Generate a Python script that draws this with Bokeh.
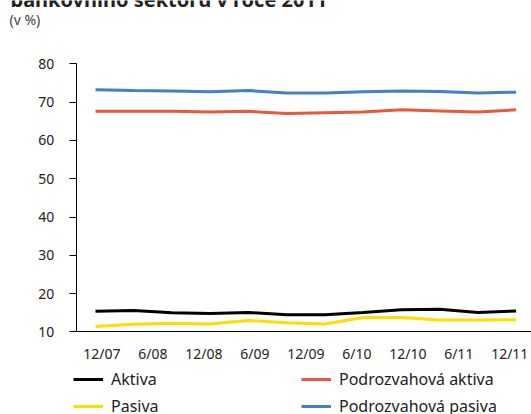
from bokeh.plotting import figure
from bokeh.models import (Range1d, FixedTicker, CustomJSTickFormatter, Legend, LegendItem, Label)
from bokeh.embed import file_html
from bokeh.resources import INLINE

# ---- data ----
x_labels = ["12/07", "6/08", "12/08", "6/09", "12/09", "6/10", "12/10", "6/11", "12/11"]
n_points = 12
aktiva = [15.4, 15.6, 15.0, 14.8, 15.1, 14.5, 14.5, 15.1, 15.8, 15.9, 15.1, 15.5]
pasiva = [11.4, 12.0, 12.3, 12.1, 13.0, 12.4, 12.1, 13.8, 13.8, 13.1, 13.1, 13.2]
podroz_aktiva = [67.6, 67.6, 67.6, 67.4, 67.6, 67.0, 67.2, 67.4, 68.0, 67.7, 67.4, 68.0]
podroz_pasiva = [73.2, 73.0, 72.9, 72.7, 73.0, 72.4, 72.4, 72.7, 72.9, 72.8, 72.4, 72.6]
y_ticks = [10, 20, 30, 40, 50, 60, 70, 80]
y_min, y_max = 10, 80

FONT = "Noto Sans"
W, H = 531, 414
xs = list(range(n_points))

# layout: frame covers whole canvas, axes drawn at fixed locations
px_per_cat = 38.24
px_per_unit = 3.831
x0_px, y80_px = 95.0, 63.3
x_start = -x0_px / px_per_cat
x_end = x_start + W / px_per_cat
y_end = y_max + y80_px / px_per_unit
y_start = y_end - H / px_per_unit

p = figure(width=W, height=H, output_backend="svg", toolbar_location=None,
           x_range=Range1d(x_start, x_end), y_range=Range1d(y_start, y_end),
           min_border=0)
p.outline_line_color = None
p.xgrid.grid_line_color = None
p.ygrid.grid_line_color = None
p.background_fill_color = "white"
p.border_fill_color = "white"

r1 = p.line(xs, aktiva, line_color="#000000", line_width=3)
r2 = p.line(xs, pasiva, line_color="#FFDD00", line_width=3)
r3 = p.line(xs, podroz_aktiva, line_color="#E9583B", line_width=3)
r4 = p.line(xs, podroz_pasiva, line_color="#3F82C7", line_width=3)

# y axis
p.yaxis.fixed_location = -0.5
p.yaxis.bounds = (y_min, y_max)
p.yaxis.ticker = FixedTicker(ticks=y_ticks)
p.yaxis.major_tick_out = 7
p.yaxis.major_tick_in = 0
p.yaxis.minor_tick_out = 0
p.yaxis.minor_tick_in = 0
p.yaxis.major_label_standoff = 15
p.yaxis.major_label_text_font = FONT
p.yaxis.major_label_text_font_size = "14px"
p.yaxis.major_label_text_color = "#222222"
p.yaxis.axis_line_color = "#000000"
p.yaxis.major_tick_line_color = "#000000"

# x axis (category labels spread over the 12 periods)
step = n_points / len(x_labels)
p.xaxis.fixed_location = y_min
p.xaxis.bounds = (-0.5, x_end)
p.xaxis.ticker = FixedTicker(ticks=[-0.5 + (k + 0.5) * step for k in range(len(x_labels))])
p.xaxis.formatter = CustomJSTickFormatter(args=dict(labels=x_labels), code="return labels[index];")
p.xaxis.major_tick_out = 0
p.xaxis.major_tick_in = 0
p.xaxis.minor_tick_out = 0
p.xaxis.minor_tick_in = 0
p.xaxis.major_label_standoff = 12
p.xaxis.major_label_text_font = FONT
p.xaxis.major_label_text_font_size = "14px"
p.xaxis.major_label_text_color = "#222222"
p.xaxis.axis_line_color = "#000000"

# header texts (title is cut by the top edge, as in the source)
p.add_layout(Label(x=10, y=H + 1, x_units="screen", y_units="screen",
                   text="bankovního sektoru v roce 2011",
                   text_font=FONT, text_font_size="20px", text_font_style="bold",
                   text_color="#222222", text_baseline="alphabetic"))
p.add_layout(Label(x=9, y=H - 19, x_units="screen", y_units="screen", text="(v %)",
                   text_font=FONT, text_font_size="14px", text_color="#444444",
                   text_baseline="middle"))

legend = Legend(items=[LegendItem(label="Aktiva", renderers=[r1]),
                       LegendItem(label="Pasiva", renderers=[r2]),
                       LegendItem(label="Podrozvahová aktiva", renderers=[r3]),
                       LegendItem(label="Podrozvahová pasiva", renderers=[r4])],
                location=(73, -3), orientation="vertical", nrows=2,
                glyph_width=30, glyph_height=20, label_height=20, label_width=185,
                label_standoff=8, spacing=5, padding=0, margin=0,
                label_text_font=FONT, label_text_font_size="16px", label_text_color="#222222",
                background_fill_alpha=0, border_line_alpha=0)
p.add_layout(legend)

open("out.html", "w").write(file_html(p, INLINE))
